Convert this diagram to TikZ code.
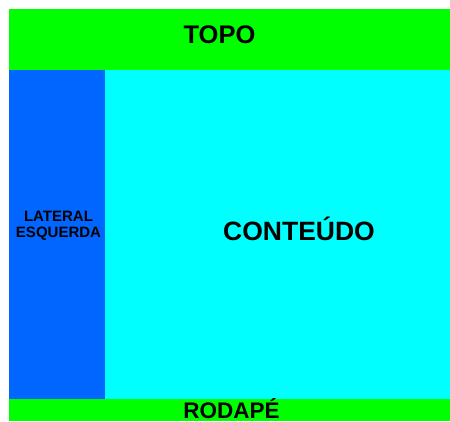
\documentclass[tikz,border=0pt]{standalone}
\usepackage{fontspec}
\setmainfont{Liberation Sans}
\definecolor{topogreen}{HTML}{00FF00}
\definecolor{contcyan}{HTML}{00FFFF}
\definecolor{latblue}{HTML}{0066FF}
\tikzset{
	rotulo/.style={font=\bfseries\fontsize{#1}{#1}\selectfont,text=black,inner sep=0pt,align=center},
}
\begin{document}
\begin{tikzpicture}[x=1pt,y=1pt]
	\useasboundingbox (0,0) rectangle (450,-421);
	\fill[topogreen] (9,-9) rectangle (450,-70);
	\fill[latblue] (9,-70) rectangle (105,-399);
	\fill[contcyan] (105,-70) rectangle (450,-399);
	\fill[topogreen] (9,-399) rectangle (450,-421);
	\node[rotulo=25.5] (topo) at (219.5,-35) {TOPO};
	\node[rotulo=15,font=\bfseries\fontsize{15}{16.5}\selectfont] (lateral) at (58.5,-226) {LATERAL\\ESQUERDA};
	\node[rotulo=26.5] (conteudo) at (299,-228.5) {CONTEÚDO};
	\node[rotulo=22.5] (rodape) at (231.5,-408.5) {RODAPÉ};
\end{tikzpicture}
\end{document}
